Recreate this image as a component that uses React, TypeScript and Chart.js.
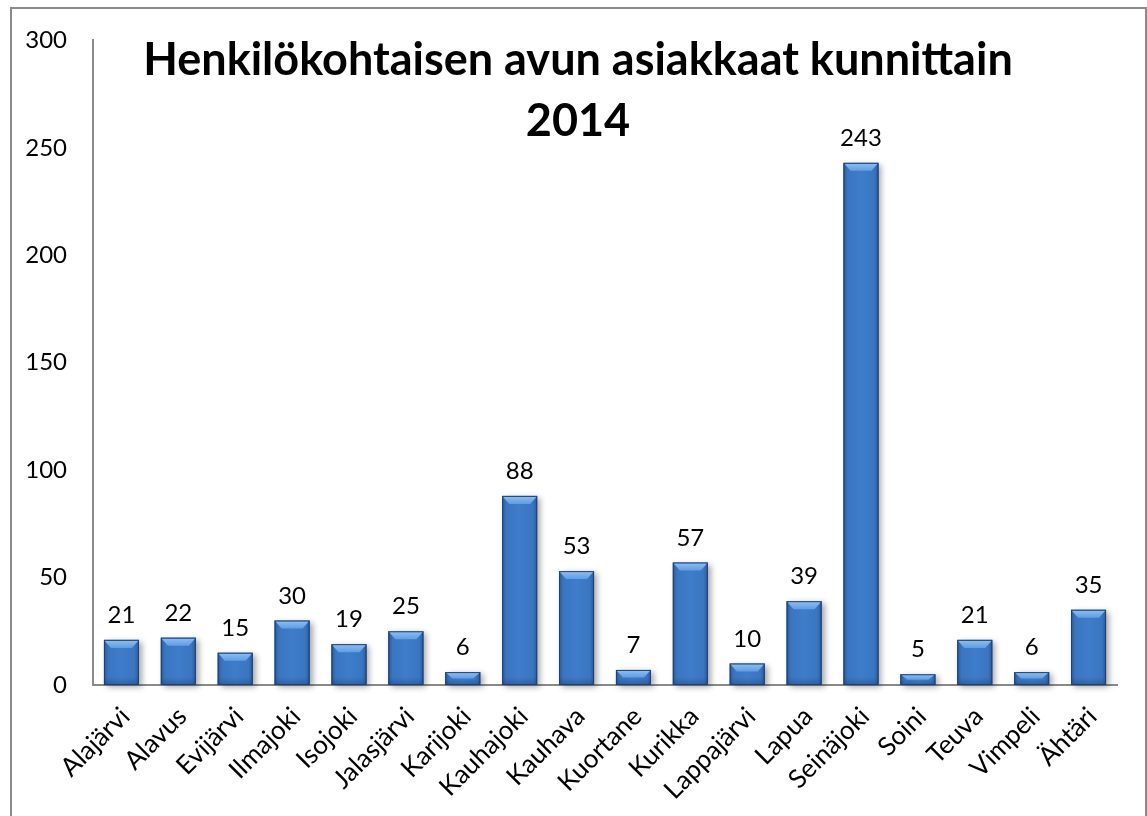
import { useEffect, useRef } from "react";
import { Chart, registerables } from "chart.js";

Chart.register(...registerables);

const categories = [
  "Alajärvi", "Alavus", "Evijärvi", "Ilmajoki", "Isojoki", "Jalasjärvi",
  "Karijoki", "Kauhajoki", "Kauhava", "Kuortane", "Kurikka", "Lappajärvi",
  "Lapua", "Seinäjoki", "Soini", "Teuva", "Vimpeli", "Ähtäri",
];
const values = [21, 22, 15, 30, 19, 25, 6, 88, 53, 7, 57, 10, 39, 243, 5, 21, 6, 35];
const yMin = 0;
const yMax = 300;
const yStep = 50;
const titleLines = ["Henkilökohtaisen avun asiakkaat kunnittain", "2014"];

const FONT = "Lato, 'Open Sans', sans-serif";

const framePlugin = {
  id: "frame",
  beforeDraw(chart: any) {
    const ctx = chart.ctx;
    ctx.save();
    ctx.fillStyle = "#ffffff";
    ctx.fillRect(0, 0, chart.width, chart.height);
    ctx.strokeStyle = "#8a8a8a";
    ctx.lineWidth = 2;
    ctx.strokeRect(11, 8, 1135, 900);
    ctx.restore();
  },
};

const barStylePlugin = {
  id: "barStyle",
  beforeDatasetsDraw(chart: any) {
    const ctx = chart.ctx;
    const meta = chart.getDatasetMeta(0);
    ctx.save();
    meta.data.forEach((bar: any) => {
      const { x, y, base, width } = bar.getProps(["x", "y", "base", "width"], true);
      ctx.shadowColor = "rgba(0,0,0,0.35)";
      ctx.shadowBlur = 6;
      ctx.shadowOffsetX = 3;
      ctx.shadowOffsetY = 2;
      ctx.fillStyle = "#2f64a6";
      ctx.fillRect(x - width / 2, y, width, base - y);
    });
    ctx.restore();
  },
  afterDatasetsDraw(chart: any) {
    const ctx = chart.ctx;
    const meta = chart.getDatasetMeta(0);
    ctx.save();
    meta.data.forEach((bar: any, i: number) => {
      const { x, y, base, width } = bar.getProps(["x", "y", "base", "width"], true);
      const L = x - width / 2;
      const R = x + width / 2;
      const T = y;
      const B = base;
      const h = B - T;
      const b = Math.min(8, h / 2);
      const s = Math.min(7, width / 4);
      const g = ctx.createLinearGradient(L, 0, R, 0);
      g.addColorStop(0, "#2a5a9a");
      g.addColorStop(0.12, "#3a75c0");
      g.addColorStop(0.5, "#3e7dca");
      g.addColorStop(0.88, "#3a75c0");
      g.addColorStop(1, "#2a5a9a");
      ctx.fillStyle = g;
      ctx.fillRect(L, T, width, h);
      // bottom shade
      const bg = ctx.createLinearGradient(0, B - b, 0, B);
      bg.addColorStop(0, "rgba(20,50,100,0)");
      bg.addColorStop(1, "rgba(20,50,100,0.35)");
      ctx.fillStyle = bg;
      ctx.fillRect(L, B - b, width, b);
      // top bevel
      const tg = ctx.createLinearGradient(0, T, 0, T + b);
      tg.addColorStop(0, "#8fc0f3");
      tg.addColorStop(1, "#5f9de3");
      ctx.fillStyle = tg;
      ctx.beginPath();
      ctx.moveTo(L, T); ctx.lineTo(R, T); ctx.lineTo(R - s, T + b); ctx.lineTo(L + s, T + b);
      ctx.closePath(); ctx.fill();
      // outline
      ctx.strokeStyle = "#1d416f";
      ctx.lineWidth = 1;
      ctx.strokeRect(L + 0.5, T + 0.5, width - 1, h - 1);
      // value label
      ctx.fillStyle = "#000000";
      ctx.font = `24px ${FONT}`;
      ctx.textAlign = "center";
      ctx.textBaseline = "alphabetic";
      ctx.fillText(String(values[i]), x, T - 17);
    });
    ctx.restore();
  },
  afterDraw(chart: any) {
    const ctx = chart.ctx;
    ctx.save();
    ctx.fillStyle = "#000000";
    ctx.font = `bold 45px ${FONT}`;
    ctx.textAlign = "center";
    ctx.textBaseline = "alphabetic";
    ctx.fillText(titleLines[0], 578, 75);
    ctx.fillText(titleLines[1], 578, 136);
    ctx.restore();
  },
};

export default function App() {
  const ref = useRef<HTMLCanvasElement | null>(null);
  useEffect(() => {
    if (!ref.current) return;
    const chart = new Chart(ref.current, {
      type: "bar",
      data: {
        labels: categories,
        datasets: [
          {
            data: values,
            backgroundColor: "rgba(0,0,0,0)",
            borderWidth: 0,
            categoryPercentage: 1,
            barPercentage: 0.615,
          },
        ],
      },
      options: {
        responsive: false,
        animation: false,
        devicePixelRatio: 1,
        layout: { padding: { left: 0, right: 30, top: 38, bottom: 0 } },
        plugins: { legend: { display: false }, tooltip: { enabled: false }, title: { display: false } },
        scales: {
          x: {
            grid: { display: false, drawTicks: false },
            border: { display: true, color: "#8a8a8a", width: 2 },
            ticks: {
              minRotation: 45,
              maxRotation: 45,
              autoSkip: false,
              padding: 16,
              labelOffset: 4,
              color: "#000000",
              font: { family: FONT, size: 26 },
            },
            afterFit: (scale: any) => {
              scale.height = 131;
            },
          },
          y: {
            min: yMin,
            max: yMax,
            grid: { display: false, drawTicks: false },
            border: { display: true, color: "#8a8a8a", width: 2 },
            ticks: {
              stepSize: yStep,
              padding: 26,
              color: "#000000",
              font: { family: FONT, size: 24 },
            },
            afterFit: (scale: any) => {
              scale.width = 93;
            },
          },
        },
      },
      plugins: [framePlugin, barStylePlugin],
    });
    return () => chart.destroy();
  }, []);
  return (
    <div style={{ position: "fixed", left: 0, top: 0, width: 1147, height: 816, background: "#fff" }}>
      <canvas ref={ref} width={1147} height={816} style={{ display: "block", width: 1147, height: 816 }} />
    </div>
  );
}
